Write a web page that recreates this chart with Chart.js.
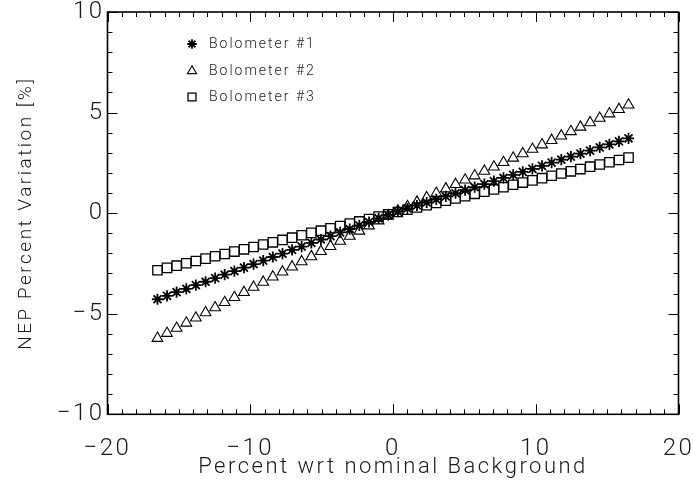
<!DOCTYPE html>
<html><head><meta charset="utf-8">
<script src="https://cdn.jsdelivr.net/npm/chart.js@4.4.0/dist/chart.umd.min.js"></script>
<style>html,body{margin:0;padding:0;background:#fff;}canvas{display:block;}</style>
</head><body>
<canvas id="c" width="693" height="483"></canvas>
<script>
// Percent variation of background (x)
const xValues = [-16.5,-15.83,-15.16,-14.48,-13.81,-13.13,-12.46,-11.79,-11.11,-10.44,-9.77,-9.09,-8.42,-7.74,-7.07,-6.40,-5.72,-5.05,-4.38,-3.70,-3.03,-2.36,-1.68,-1.01,-0.34,0.34,1.01,1.68,2.36,3.03,3.70,4.38,5.05,5.72,6.40,7.07,7.74,8.42,9.09,9.77,10.44,11.11,11.79,12.46,13.13,13.81,14.48,15.16,15.83,16.5];
// NEP percent variation per bolometer
const bolometer1 = [-4.28,-4.11,-3.93,-3.76,-3.58,-3.41,-3.23,-3.06,-2.88,-2.71,-2.53,-2.36,-2.18,-2.01,-1.83,-1.66,-1.48,-1.31,-1.14,-0.96,-0.79,-0.61,-0.44,-0.26,-0.09,0.08,0.23,0.38,0.53,0.68,0.83,0.99,1.14,1.29,1.44,1.59,1.75,1.90,2.05,2.20,2.35,2.51,2.66,2.81,2.96,3.11,3.27,3.42,3.57,3.72];
const bolometer2 = [-6.22,-5.97,-5.72,-5.46,-5.21,-4.95,-4.70,-4.44,-4.19,-3.94,-3.68,-3.43,-3.17,-2.92,-2.67,-2.41,-2.16,-1.90,-1.65,-1.39,-1.14,-0.89,-0.63,-0.38,-0.13,0.11,0.33,0.55,0.77,0.99,1.21,1.43,1.65,1.86,2.09,2.30,2.52,2.74,2.96,3.18,3.40,3.62,3.84,4.06,4.28,4.50,4.72,4.94,5.16,5.38];
const bolometer3 = [-2.84,-2.72,-2.61,-2.49,-2.38,-2.26,-2.14,-2.03,-1.91,-1.80,-1.68,-1.56,-1.45,-1.33,-1.22,-1.10,-0.98,-0.87,-0.75,-0.64,-0.52,-0.41,-0.29,-0.17,-0.06,0.06,0.17,0.28,0.39,0.51,0.62,0.73,0.84,0.96,1.07,1.18,1.29,1.41,1.52,1.63,1.74,1.86,1.97,2.08,2.19,2.31,2.42,2.53,2.64,2.76];
const seriesNames = ['Bolometer #1','Bolometer #2','Bolometer #3'];
const xTickValues = [-20,-10,0,10,20];
const xTickLabels = ['\u221220','\u221210','0','10','20'];
const yTickValues = [-10,-5,0,5,10];
const yTickLabels = ['\u221210','\u22125','0','5','10'];
const xTitle = 'Percent wrt nominal Background';
const yTitle = 'NEP Percent Variation [%]';

const FONT = 'Roboto, "DejaVu Sans", sans-serif';
const TXT = '#1a1a1a';
const SPACING = '2.5px';

function pts(arr){ return xValues.map((x,i)=>({x:x, y:arr[i]})); }

const styles = [
  {pointStyle:'star', radius:5.6, borderWidth:1.8},
  {pointStyle:'triangle', radius:6.2, borderWidth:1.1},
  {pointStyle:'rect', radius:6.6, borderWidth:1.3}
];
const series = [bolometer1, bolometer2, bolometer3];

const datasets = series.map((s,i)=>({
  label: seriesNames[i],
  data: pts(s),
  showLine: false,
  pointStyle: styles[i].pointStyle,
  pointRadius: styles[i].radius,
  pointHoverRadius: styles[i].radius,
  pointBorderWidth: styles[i].borderWidth,
  borderColor: '#000',
  backgroundColor: 'rgba(0,0,0,0)',
  pointBackgroundColor: 'rgba(0,0,0,0)',
  pointBorderColor: '#000'
}));

const spacingPlugin = {
  id: 'spacing',
  beforeUpdate(chart){ chart.ctx.letterSpacing = SPACING; },
  beforeDraw(chart){ chart.ctx.letterSpacing = SPACING; }
};

const framePlugin = {
  id: 'frame',
  afterDraw(chart){
    const {ctx, chartArea:a, scales:{x, y}} = chart;
    ctx.save();
    ctx.strokeStyle = '#000';
    ctx.lineWidth = 1.6;
    ctx.strokeRect(a.left, a.top, a.right-a.left, a.bottom-a.top);
    ctx.lineWidth = 1;
    ctx.beginPath();
    x.ticks.forEach(t=>{
      const px = Math.round(x.getPixelForValue(t.value))+0.5;
      const len = xTickValues.includes(t.value) ? 10 : 5;
      ctx.moveTo(px, a.bottom); ctx.lineTo(px, a.bottom-len);
      ctx.moveTo(px, a.top); ctx.lineTo(px, a.top+len);
    });
    y.ticks.forEach(t=>{
      const py = Math.round(y.getPixelForValue(t.value))+0.5;
      const len = yTickValues.includes(t.value) ? 10 : 5;
      ctx.moveTo(a.left, py); ctx.lineTo(a.left+len, py);
      ctx.moveTo(a.right, py); ctx.lineTo(a.right-len, py);
    });
    ctx.stroke();
    // legend
    const lx = 192, ty = [44, 71, 97];
    chart.data.datasets.forEach((d,i)=>{
      ctx.strokeStyle = '#000';
      ctx.fillStyle = 'rgba(0,0,0,0)';
      ctx.lineWidth = d.pointBorderWidth;
      Chart.helpers.drawPoint(ctx, {pointStyle:d.pointStyle, radius:d.pointRadius*0.85, borderWidth:d.pointBorderWidth, rotation:0}, lx, ty[i]);
      ctx.fillStyle = TXT;
      ctx.font = '300 14px ' + FONT;
      ctx.letterSpacing = '2px';
      ctx.textAlign = 'left';
      ctx.textBaseline = 'middle';
      ctx.fillText(d.label, 209, ty[i]);
    });
    ctx.restore();
  }
};

new Chart(document.getElementById('c'), {
  type: 'scatter',
  data: {datasets},
  options: {
    responsive: false,
    animation: false,
    events: [],
    layout: {padding: {top: 12, right: 14.5, left: 0, bottom: 0}},
    plugins: {legend: {display:false}, tooltip: {enabled:false}},
    scales: {
      x: {
        type: 'linear', min: -20, max: 20,
        grid: {display: false, drawTicks: false},
        border: {display: false},
        ticks: {
          stepSize: 1, autoSkip: false, maxRotation: 0, padding: 20,
          color: TXT, font: {family: FONT, size: 24, weight: '300'},
          callback: (v)=>{ const k = xTickValues.indexOf(v); return k>=0 ? xTickLabels[k] : ''; }
        },
        title: {display: true, text: xTitle, color: TXT, font: {family: FONT, size: 22, weight: '300'}, padding: {top: 0, bottom: 2}},
        afterFit: (s)=>{ s.height = 68.7; s.paddingLeft = 0; s.paddingRight = 0; }
      },
      y: {
        type: 'linear', min: -10, max: 10,
        grid: {display: false, drawTicks: false},
        border: {display: false},
        ticks: {
          stepSize: 1, autoSkip: false, padding: 3,
          color: TXT, font: {family: FONT, size: 24, weight: '300'},
          callback: (v)=>{ const k = yTickValues.indexOf(v); return k>=0 ? yTickLabels[k] : ''; }
        },
        title: {display: true, text: yTitle, color: TXT, font: {family: FONT, size: 19, weight: '300'}, padding: {top: 15, bottom: 0}},
        afterFit: (s)=>{ s.width = 107.5; s.paddingTop = 0; s.paddingBottom = 0; }
      }
    }
  },
  plugins: [spacingPlugin, framePlugin]
});
</script>
</body></html>
